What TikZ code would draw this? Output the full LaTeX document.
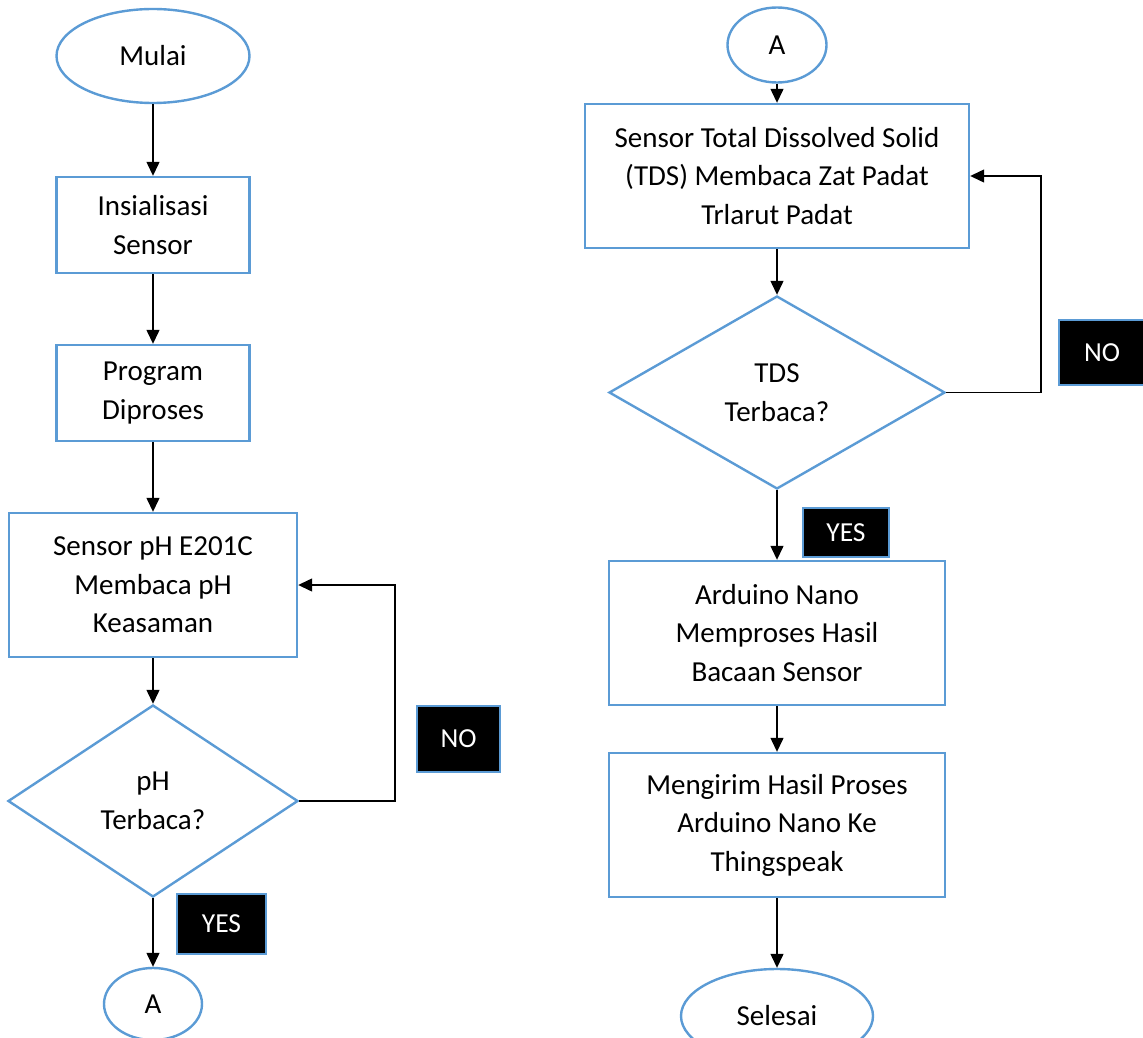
\documentclass[tikz,border=0pt]{standalone}
\usepackage{fontspec}
\setmainfont{Carlito}
\usetikzlibrary{shapes.geometric,arrows.meta}
\definecolor{flowblue}{HTML}{5B9BD5}
\tikzset{
  base/.style={draw=flowblue,line width=2.4pt,align=center,inner sep=0pt,
    font=\fontsize{29}{38.5}\selectfont},
  process/.style={base,rectangle},
  terminal/.style={base,ellipse},
  decision/.style={base,diamond},
  tag/.style={draw=flowblue,line width=2pt,fill=black,text=white,inner sep=0pt,
    font=\fontsize{27.5}{32}\selectfont},
  flow/.style={line width=1.3pt,-{Triangle[length=14pt,width=13pt]}}
}
\begin{document}
\begin{tikzpicture}[x=1pt,y=-1pt]
\useasboundingbox (0,0) rectangle (1143,1038);

% left column
\node[terminal,minimum width=193pt,minimum height=94pt] (start) at (153,56) {Mulai};
\node[process,minimum width=193pt,minimum height=96pt] (init) at (153,225) {Insialisasi\\Sensor};
\node[process,minimum width=193pt,minimum height=96pt] (prog) at (153,393) {Program\\Diproses};
\node[process,minimum width=288pt,minimum height=144pt] (ph) at (153,585) {Sensor pH E201C\\Membaca pH\\Keasaman};
\node[decision,minimum width=290pt,minimum height=192pt] (phq) at (153,801) {pH\\Terbaca?};
\node[terminal,minimum width=98pt,minimum height=72pt] (conA) at (153,1004) {A};
\node[tag,minimum width=83pt,minimum height=66pt] (no1) at (458.5,739) {NO};
\node[tag,minimum width=89pt,minimum height=60pt] (yes1) at (221.5,924) {YES};
\coordinate (loop1) at (395,801);

\draw[flow] (start) -- (init);
\draw[flow] (init) -- (prog);
\draw[flow] (prog) -- (ph);
\draw[flow] (ph) -- (phq);
\draw[flow] (phq) -- (conA);
\draw[flow] (phq.east) -- (loop1) |- (ph.east);

% right column
\node[terminal,minimum width=99pt,minimum height=75pt] (conA2) at (777,45) {A};
\node[process,minimum width=384pt,minimum height=144pt] (tds) at (777,176) {Sensor Total Dissolved Solid\\(TDS) Membaca Zat Padat\\Trlarut Padat};
\node[decision,minimum width=336pt,minimum height=193pt] (tdsq) at (777,392.5) {TDS\\Terbaca?};
\node[process,minimum width=336pt,minimum height=144pt] (nano) at (777,633) {Arduino Nano\\Memproses Hasil\\Bacaan Sensor};
\node[process,minimum width=336pt,minimum height=144pt] (send) at (777,825) {Mengirim Hasil Proses\\Arduino Nano Ke\\Thingspeak};
\node[terminal,minimum width=192pt,minimum height=94pt] (stop) at (777,1016) {Selesai};
\node[tag,minimum width=86pt,minimum height=65pt] (no2) at (1102,352.5) {NO};
\node[tag,minimum width=86pt,minimum height=49pt] (yes2) at (846,532.5) {YES};
\coordinate (loop2) at (1041,392.5);

\draw[flow] (conA2) -- (tds);
\draw[flow] (tds) -- (tdsq);
\draw[flow] (tdsq) -- (nano);
\draw[flow] (nano) -- (send);
\draw[flow] (send) -- (stop);
\draw[flow] (tdsq.east) -- (loop2) |- (tds.east);
\end{tikzpicture}
\end{document}
